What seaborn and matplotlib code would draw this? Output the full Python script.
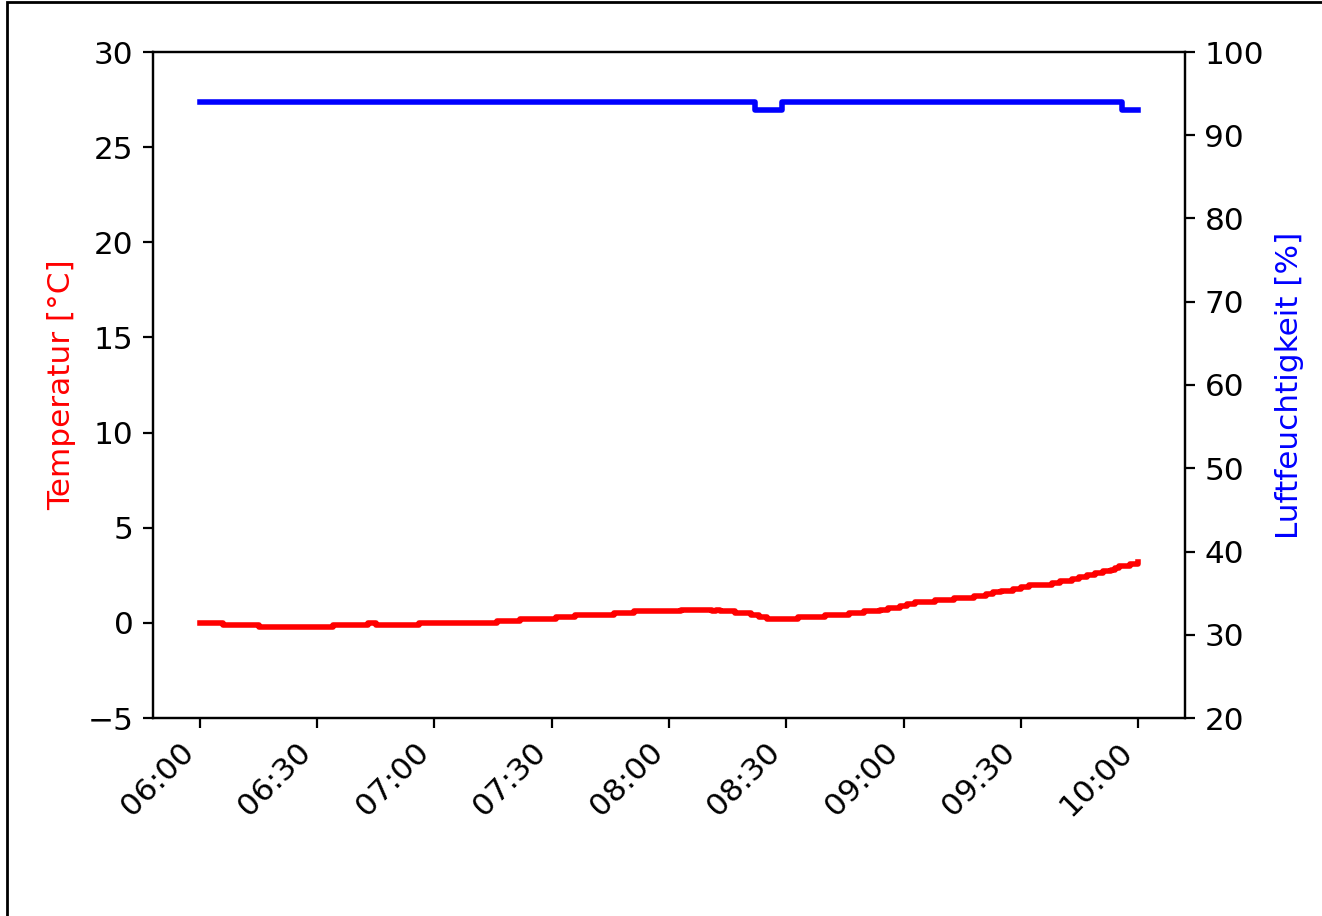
import pandas as pd
import matplotlib
matplotlib.use("Agg")
import matplotlib.pyplot as plt
import matplotlib.dates as mdates
from matplotlib.patches import Rectangle
import seaborn as sns

# Messwerte (Minuten ab 06:00, Wert) - Stufenwerte
START = pd.Timestamp("2020-01-01 06:00")

temp_minutes = [0, 6, 15, 34, 43, 45, 56, 76, 82, 91, 96, 106, 111, 123, 131, 132,
                133, 137, 141, 143, 145, 153, 160, 166, 170, 174, 176, 179, 181, 183,
                188, 193, 198, 201, 203, 205, 208, 210, 212, 218, 220, 223, 225, 227,
                229, 231, 233, 234, 235, 238, 240]
temp_values = [0.0, -0.1, -0.2, -0.1, 0.0, -0.1, 0.0, 0.1, 0.2, 0.3, 0.4, 0.5, 0.6, 0.7, 0.6, 0.7,
               0.6, 0.5, 0.4, 0.3, 0.2, 0.3, 0.4, 0.5, 0.6, 0.7, 0.8, 0.9, 1.0, 1.1,
               1.2, 1.3, 1.4, 1.5, 1.6, 1.7, 1.8, 1.9, 2.0, 2.1, 2.2, 2.3, 2.4, 2.5,
               2.6, 2.7, 2.8, 2.9, 3.0, 3.1, 3.2]

hum_minutes = [0, 142, 149, 236, 240]
hum_values = [94, 93, 94, 93, 93]

temp_ticks = [-5, 0, 5, 10, 15, 20, 25, 30]
hum_ticks = [20, 30, 40, 50, 60, 70, 80, 90, 100]

df_temp = pd.DataFrame({"zeit": START + pd.to_timedelta(temp_minutes, unit="min"),
                        "temperatur": temp_values})
df_hum = pd.DataFrame({"zeit": START + pd.to_timedelta(hum_minutes, unit="min"),
                       "feuchte": hum_values})

plt.rcParams["font.size"] = 11.2

W, H = 1322, 916
fig = plt.figure(figsize=(W / 200, H / 200), dpi=200)
ax = fig.add_axes([153 / W, 1 - 718 / H, 1032 / W, 666 / H])
ax2 = ax.twinx()

sns.lineplot(data=df_temp, x="zeit", y="temperatur", ax=ax, color="red",
             linewidth=2, drawstyle="steps-post", estimator=None)
sns.lineplot(data=df_hum, x="zeit", y="feuchte", ax=ax2, color="blue",
             linewidth=2, drawstyle="steps-post", estimator=None)

ax.set_ylim(-5, 30)
ax.set_yticks(temp_ticks)
ax2.set_ylim(20, 100)
ax2.set_yticks(hum_ticks)

ax.set_ylabel("Temperatur [°C]", color="red")
ax2.set_ylabel("Luftfeuchtigkeit [%]", color="blue")
ax.set_xlabel("")
ax2.set_xlabel("")

ax.xaxis.set_major_locator(mdates.MinuteLocator(byminute=[0, 30]))
ax.xaxis.set_major_formatter(mdates.DateFormatter("%H:%M"))
plt.setp(ax.get_xticklabels(), rotation=45, ha="right")

# Rahmen (links und oben sichtbar)
frame = Rectangle((7 / W, -0.5), 2, 0.5 + 1 - 1.5 / H, transform=fig.transFigure,
                  fill=False, edgecolor="black", linewidth=1)
fig.add_artist(frame)

fig.savefig("out.png", dpi=200)
